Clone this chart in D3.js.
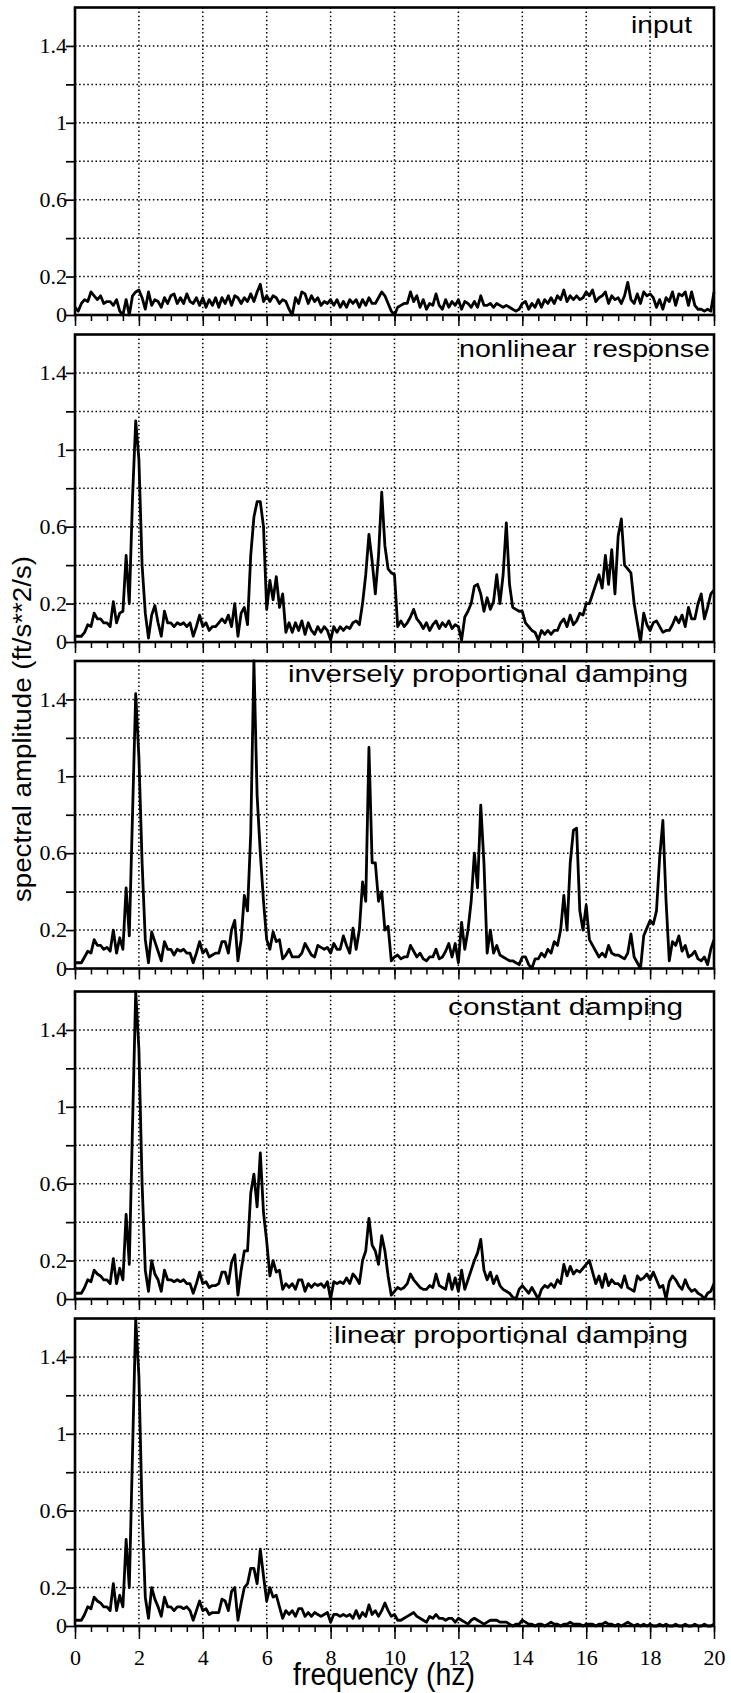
<!DOCTYPE html>
<html>
<head>
<meta charset="utf-8">
<script src="https://cdn.jsdelivr.net/npm/d3@7"></script>
<style>
  html, body { margin: 0; padding: 0; background: #fff; }
  svg { display: block; }
</style>
</head>
<body>
<svg id="chart" width="731" height="1693"></svg>
<script>
// Spectral amplitude (ft/s**2/s) sampled every 0.1 Hz from 0 to 20 Hz.
const freqStep = 0.1;

const inputSpec = [
  0.04, 0.02, 0.06, 0.08, 0.07, 0.12, 0.1, 0.08, 0.1, 0.06,
  0.07, 0.07, 0.05, 0.08, 0.02, 0.0, 0.08, 0.0, 0.1, 0.12,
  0.13, 0.09, 0.03, 0.12, 0.05, 0.08, 0.07, 0.04, 0.09, 0.06,
  0.1, 0.11, 0.06, 0.09, 0.06, 0.11, 0.07, 0.06, 0.09, 0.05,
  0.09, 0.04, 0.08, 0.05, 0.09, 0.04, 0.09, 0.06, 0.1, 0.05,
  0.1, 0.09, 0.06, 0.09, 0.07, 0.11, 0.07, 0.12, 0.16, 0.07,
  0.1, 0.07, 0.1, 0.09, 0.06, 0.08, 0.07, 0.03, 0.0, 0.09,
  0.06, 0.12, 0.11, 0.06, 0.1, 0.07, 0.09, 0.05, 0.07, 0.06,
  0.08, 0.05, 0.08, 0.04, 0.07, 0.04, 0.08, 0.06, 0.08, 0.04,
  0.08, 0.05, 0.09, 0.06, 0.06, 0.09, 0.12, 0.1, 0.06, 0.02,
  0.0, 0.04, 0.05, 0.06, 0.06, 0.12, 0.07, 0.1, 0.04, 0.08,
  0.03, 0.06, 0.05, 0.11, 0.05, 0.03, 0.08, 0.04, 0.07, 0.05,
  0.08, 0.03, 0.07, 0.06, 0.04, 0.07, 0.04, 0.1, 0.05, 0.05,
  0.06, 0.04, 0.06, 0.05, 0.04, 0.05, 0.04, 0.03, 0.02, 0.03,
  0.06, 0.07, 0.03, 0.06, 0.04, 0.08, 0.04, 0.08, 0.06, 0.09,
  0.06, 0.1, 0.08, 0.13, 0.07, 0.1, 0.08, 0.1, 0.08, 0.09,
  0.12, 0.1, 0.13, 0.07, 0.09, 0.1, 0.12, 0.06, 0.1, 0.08,
  0.09, 0.06, 0.1, 0.17, 0.08, 0.06, 0.11, 0.06, 0.12, 0.1,
  0.11, 0.09, 0.04, 0.08, 0.03, 0.09, 0.07, 0.12, 0.05, 0.11,
  0.1, 0.12, 0.05, 0.12, 0.05, 0.03, 0.03, 0.02, 0.03, 0.02, 0.12
];

const nonlinearSpec = [
  0.03, 0.03, 0.03, 0.05, 0.09, 0.08, 0.15, 0.12, 0.12, 0.1,
  0.1, 0.08, 0.21, 0.1, 0.15, 0.16, 0.45, 0.2, 0.75, 1.15,
  0.95, 0.4, 0.15, 0.02, 0.14, 0.19, 0.1, 0.03, 0.16, 0.1,
  0.1, 0.08, 0.1, 0.09, 0.1, 0.08, 0.1, 0.03, 0.08, 0.14,
  0.08, 0.1, 0.06, 0.08, 0.08, 0.1, 0.12, 0.1, 0.14, 0.08,
  0.2, 0.03, 0.15, 0.18, 0.09, 0.45, 0.65, 0.73, 0.73, 0.6,
  0.17, 0.32, 0.22, 0.34, 0.18, 0.25, 0.05, 0.1, 0.05, 0.1,
  0.06, 0.11, 0.04, 0.1, 0.06, 0.04, 0.08, 0.05, 0.08, 0.06,
  0.01, 0.08, 0.05, 0.08, 0.06, 0.08, 0.07, 0.1, 0.11, 0.09,
  0.2, 0.35, 0.56, 0.42, 0.25, 0.45, 0.78, 0.5, 0.38, 0.36,
  0.35, 0.08, 0.11, 0.08, 0.1, 0.13, 0.17, 0.12, 0.1, 0.07,
  0.1, 0.06, 0.09, 0.11, 0.07, 0.1, 0.08, 0.11, 0.07, 0.09,
  0.08, 0.01, 0.13, 0.16, 0.2, 0.29, 0.3, 0.25, 0.16, 0.23,
  0.17, 0.21, 0.35, 0.2, 0.35, 0.62, 0.3, 0.18, 0.17, 0.16,
  0.16, 0.1, 0.08, 0.06, 0.05, 0.01, 0.06, 0.04, 0.06, 0.04,
  0.06, 0.06, 0.1, 0.12, 0.08, 0.14, 0.09, 0.11, 0.15, 0.14,
  0.2, 0.2, 0.25, 0.3, 0.35, 0.28, 0.45, 0.3, 0.48, 0.25,
  0.55, 0.64, 0.4, 0.38, 0.36, 0.2, 0.1, 0.0, 0.15, 0.09,
  0.06, 0.1, 0.11, 0.08, 0.05, 0.06, 0.06, 0.09, 0.13, 0.1,
  0.14, 0.08, 0.18, 0.12, 0.12, 0.2, 0.25, 0.12, 0.18, 0.25, 0.27
];

const inverseSpec = [
  0.03, 0.03, 0.03, 0.06, 0.09, 0.08, 0.15, 0.12, 0.12, 0.1,
  0.11, 0.09, 0.2, 0.08, 0.16, 0.1, 0.42, 0.17, 0.8, 1.43,
  1.1, 0.55, 0.15, 0.03, 0.19, 0.14, 0.09, 0.04, 0.14, 0.1,
  0.1, 0.07, 0.1, 0.09, 0.1, 0.08, 0.08, 0.03, 0.08, 0.14,
  0.08, 0.1, 0.06, 0.07, 0.08, 0.08, 0.14, 0.14, 0.08, 0.2,
  0.25, 0.04, 0.15, 0.38, 0.3, 0.7, 1.6, 0.9, 0.6, 0.35,
  0.15, 0.1, 0.19, 0.14, 0.15, 0.05, 0.07, 0.1, 0.06, 0.06,
  0.06, 0.08, 0.13, 0.1, 0.07, 0.06, 0.12, 0.11, 0.1, 0.11,
  0.08, 0.13, 0.1, 0.1, 0.17, 0.12, 0.08, 0.21, 0.1, 0.2,
  0.45, 0.35, 1.15, 0.55, 0.55, 0.35, 0.4, 0.2, 0.22, 0.04,
  0.06, 0.07, 0.05, 0.06, 0.06, 0.12, 0.09, 0.06, 0.08, 0.05,
  0.04, 0.06, 0.06, 0.1, 0.05, 0.06, 0.09, 0.13, 0.06, 0.13,
  0.03, 0.24, 0.1, 0.2, 0.35, 0.6, 0.42, 0.85, 0.55, 0.08,
  0.2, 0.08, 0.12, 0.07, 0.06, 0.05, 0.04, 0.04, 0.03, 0.02,
  0.06, 0.06, 0.02, 0.0, 0.05, 0.05, 0.08, 0.06, 0.1, 0.08,
  0.14, 0.12, 0.2, 0.38, 0.2, 0.55, 0.72, 0.73, 0.3, 0.2,
  0.33, 0.15, 0.12, 0.09, 0.06, 0.08, 0.06, 0.12, 0.08, 0.07,
  0.07, 0.06, 0.05, 0.08, 0.18, 0.06, 0.03, 0.0, 0.17, 0.21,
  0.25, 0.23, 0.3, 0.58, 0.77, 0.35, 0.04, 0.14, 0.12, 0.17,
  0.09, 0.12, 0.06, 0.07, 0.09, 0.05, 0.04, 0.06, 0.02, 0.1, 0.15
];

const constantSpec = [
  0.03, 0.03, 0.03, 0.06, 0.1, 0.09, 0.15, 0.13, 0.12, 0.1,
  0.1, 0.08, 0.21, 0.08, 0.16, 0.1, 0.44, 0.18, 0.9, 1.6,
  1.3, 0.6, 0.15, 0.04, 0.2, 0.13, 0.1, 0.04, 0.15, 0.1,
  0.1, 0.09, 0.1, 0.09, 0.1, 0.08, 0.08, 0.03, 0.08, 0.14,
  0.08, 0.09, 0.06, 0.07, 0.07, 0.08, 0.14, 0.14, 0.08, 0.19,
  0.23, 0.02, 0.15, 0.25, 0.25, 0.55, 0.65, 0.48, 0.76, 0.45,
  0.3, 0.12, 0.2, 0.14, 0.15, 0.05, 0.08, 0.06, 0.08, 0.05,
  0.1, 0.1, 0.04, 0.08, 0.06, 0.08, 0.07, 0.08, 0.06, 0.09,
  0.0, 0.09, 0.08, 0.09, 0.08, 0.11, 0.08, 0.13, 0.11, 0.08,
  0.2, 0.25, 0.42, 0.28, 0.25, 0.18, 0.33, 0.25, 0.12, 0.02,
  0.04, 0.06, 0.05, 0.06, 0.08, 0.13, 0.1, 0.08, 0.06, 0.05,
  0.05, 0.07, 0.06, 0.13, 0.07, 0.06, 0.05, 0.13, 0.05, 0.11,
  0.04, 0.15, 0.05, 0.1, 0.15, 0.2, 0.24, 0.31, 0.15, 0.1,
  0.14, 0.08, 0.12, 0.07, 0.05, 0.04, 0.03, 0.01, 0.0, 0.05,
  0.07, 0.05, 0.03, 0.06, 0.03, 0.0, 0.05, 0.07, 0.06, 0.08,
  0.06, 0.1, 0.08, 0.18, 0.12, 0.17, 0.13, 0.15, 0.14, 0.16,
  0.18, 0.2, 0.14, 0.08, 0.12, 0.06, 0.13, 0.07, 0.1, 0.08,
  0.08, 0.06, 0.12, 0.06, 0.05, 0.04, 0.12, 0.1, 0.11, 0.13,
  0.1, 0.14, 0.1, 0.06, 0.07, 0.0, 0.09, 0.12, 0.1, 0.07,
  0.05, 0.1, 0.06, 0.04, 0.05, 0.03, 0.02, 0.0, 0.03, 0.04, 0.08
];

const linearSpec = [
  0.03, 0.03, 0.03, 0.06, 0.1, 0.09, 0.15, 0.13, 0.12, 0.1,
  0.1, 0.08, 0.22, 0.08, 0.16, 0.1, 0.45, 0.2, 0.9, 1.6,
  1.3, 0.6, 0.15, 0.04, 0.2, 0.14, 0.1, 0.05, 0.15, 0.1,
  0.1, 0.08, 0.1, 0.1, 0.09, 0.1, 0.08, 0.03, 0.08, 0.13,
  0.08, 0.09, 0.06, 0.07, 0.07, 0.07, 0.14, 0.13, 0.08, 0.18,
  0.2, 0.03, 0.12, 0.2, 0.22, 0.3, 0.3, 0.22, 0.4, 0.26,
  0.13, 0.2, 0.15, 0.16, 0.1, 0.04, 0.08, 0.06, 0.08, 0.05,
  0.09, 0.09, 0.05, 0.07, 0.05, 0.07, 0.06, 0.05, 0.06, 0.07,
  0.02, 0.06, 0.06, 0.05, 0.06, 0.05, 0.06, 0.04, 0.08, 0.04,
  0.07, 0.05, 0.11, 0.06, 0.08, 0.05, 0.08, 0.12, 0.08, 0.05,
  0.06, 0.03, 0.03, 0.04, 0.05, 0.06, 0.07, 0.05, 0.04, 0.03,
  0.02, 0.05, 0.04, 0.06, 0.04, 0.04, 0.03, 0.04, 0.04, 0.02,
  0.04, 0.03, 0.02, 0.01, 0.03, 0.04, 0.03, 0.02, 0.01, 0.02,
  0.03, 0.03, 0.03, 0.02, 0.02, 0.02, 0.01, 0.0, 0.01, 0.01,
  0.03, 0.02, 0.01, 0.01, 0.0, 0.01, 0.01, 0.0, 0.01, 0.02,
  0.01, 0.01, 0.0, 0.01, 0.01, 0.02, 0.01, 0.01, 0.01, 0.0,
  0.01, 0.01, 0.01, 0.0, 0.01, 0.01, 0.02, 0.01, 0.01, 0.0,
  0.01, 0.0, 0.01, 0.02, 0.01, 0.0, 0.01, 0.0, 0.01, 0.0,
  0.01, 0.0, 0.0, 0.01, 0.0, 0.01, 0.0, 0.0, 0.01, 0.0,
  0.0, 0.01, 0.0, 0.0, 0.01, 0.0, 0.0, 0.01, 0.0, 0.0, 0.01
];

const panelTitles = [
  "input",
  "nonlinear  response",
  "inversely proportional damping",
  "constant damping",
  "linear proportional damping"
];
const panelSeries = [inputSpec, nonlinearSpec, inverseSpec, constantSpec, linearSpec];

const yTickValues = [0, 0.2, 0.4, 0.6, 0.8, 1.0, 1.2, 1.4];
const yTickLabels = { 0: "0", 0.2: "0.2", 0.6: "0.6", 1: "1", 1.4: "1.4" };
const xMajorTicks = [0, 2, 4, 6, 8, 10, 12, 14, 16, 18, 20];
const xMinorTicks = d3.range(0, 40.5, 1).map(k => k / 2);
const xGridValues = [2, 4, 6, 8, 10, 12, 14, 16, 18];
const yGridValues = [0.2, 0.4, 0.6, 0.8, 1.0, 1.2, 1.4];

const xLabel = "frequency (hz)";
const yLabel = "spectral amplitude (ft/s**2/s)";

// ---- layout ----
const SERIF = '"Liberation Serif", "Times New Roman", Times, serif';
const SANS = '"Liberation Sans", Arial, Helvetica, sans-serif';
const plotLeft = 75, plotRight = 714;
const panelZero = [315, 642, 968.5, 1299, 1626];
const panelH = 307.5;
// title placement: [x, baseline offset from panel top, text length]
const titleLayout = [
  [631, 25.5, 61],
  [459, 22.5, 251],
  [288, 21, 400],
  [448, 23.5, 235],
  [334, 24.5, 354]
];

const svg = d3.select("#chart");
svg.append("rect").attr("width", 731).attr("height", 1693).attr("fill", "#fff");

const x = d3.scaleLinear().domain([0, 20]).range([plotLeft, plotRight]);

panelSeries.forEach((series, p) => {
  const y0 = panelZero[p];
  const top = y0 - panelH;
  const y = d3.scaleLinear().domain([0, 1.6]).range([y0, top]);
  const g = svg.append("g");

  // dotted grid
  const grid = g.append("g")
    .attr("stroke", "#000")
    .attr("stroke-width", 1.5)
    .attr("stroke-dasharray", "1.5,2.6");
  grid.selectAll("line.h").data(yGridValues).join("line")
    .attr("class", "h")
    .attr("x1", plotLeft).attr("x2", plotRight)
    .attr("y1", d => y(d)).attr("y2", d => y(d));
  grid.selectAll("line.v").data(xGridValues).join("line")
    .attr("class", "v")
    .attr("x1", d => x(d)).attr("x2", d => x(d))
    .attr("y1", top).attr("y2", y0);

  // y axis ticks with sparse labels
  const yAxis = d3.axisLeft(y)
    .tickValues(yTickValues)
    .tickSize(9)
    .tickPadding(0)
    .tickFormat(d => {
      const key = Math.round(d * 10) / 10;
      return yTickLabels[key] !== undefined ? yTickLabels[key] : "";
    });
  const ya = g.append("g").attr("transform", `translate(${plotLeft},0)`).call(yAxis);
  ya.attr("font-family", null).attr("font-size", null);
  ya.select(".domain").remove();
  ya.selectAll(".tick line").attr("stroke", "#000").attr("stroke-width", 1.7);
  ya.selectAll(".tick text")
    .style("font-family", SERIF)
    .style("font-size", "22px")
    .attr("fill", "#000")
    .attr("x", -8)
    .attr("dy", "0.3em");

  // x axis: minor ticks every 0.5 Hz, major every 2 Hz
  const isBottom = p === panelSeries.length - 1;
  const xMinor = d3.axisBottom(x).tickValues(xMinorTicks).tickSize(6).tickFormat("");
  const xm = g.append("g").attr("transform", `translate(0,${y0})`).call(xMinor);
  xm.select(".domain").remove();
  xm.selectAll(".tick line").attr("stroke", "#000").attr("stroke-width", 1.5);

  const xMajor = d3.axisBottom(x).tickValues(xMajorTicks)
    .tickSize(isBottom ? 13 : 11)
    .tickFormat(isBottom ? d3.format("d") : "");
  const xM = g.append("g").attr("transform", `translate(0,${y0})`).call(xMajor);
  xM.attr("font-family", null).attr("font-size", null);
  xM.select(".domain").remove();
  xM.selectAll(".tick line").attr("stroke", "#000").attr("stroke-width", 1.5);
  xM.selectAll(".tick text")
    .style("font-family", SERIF)
    .style("font-size", "22px")
    .attr("fill", "#000")
    .attr("y", 39)
    .attr("dy", null);

  // spectrum trace
  const line = d3.line()
    .x((d, i) => x(i * freqStep))
    .y(d => y(d));
  g.append("path")
    .datum(series)
    .attr("d", line)
    .attr("fill", "none")
    .attr("stroke", "#000")
    .attr("stroke-width", 2.8)
    .attr("stroke-linejoin", "round");

  // panel frame
  g.append("rect")
    .attr("x", plotLeft).attr("y", top)
    .attr("width", plotRight - plotLeft).attr("height", panelH)
    .attr("fill", "none")
    .attr("stroke", "#000")
    .attr("stroke-width", 2.6);

  // panel title
  const [tx, tdy, tlen] = titleLayout[p];
  g.append("text")
    .style("font-family", SANS)
    .style("font-size", "24.5px")
    .style("white-space", "pre")
    .attr("x", tx).attr("y", top + tdy)
    .attr("textLength", tlen)
    .attr("lengthAdjust", "spacingAndGlyphs")
    .attr("fill", "#000")
    .text(panelTitles[p]);
});

// axis titles
svg.append("text")
  .style("font-family", SANS)
  .style("font-size", "31px")
  .attr("x", 293).attr("y", 1685)
  .attr("textLength", 182)
  .attr("lengthAdjust", "spacingAndGlyphs")
  .attr("fill", "#000")
  .text(xLabel);

svg.append("text")
  .style("font-family", SANS)
  .style("font-size", "26px")
  .attr("transform", "translate(31,729) rotate(-90)")
  .attr("text-anchor", "middle")
  .attr("textLength", 346)
  .attr("lengthAdjust", "spacingAndGlyphs")
  .attr("fill", "#000")
  .text(yLabel);
</script>
</body>
</html>
